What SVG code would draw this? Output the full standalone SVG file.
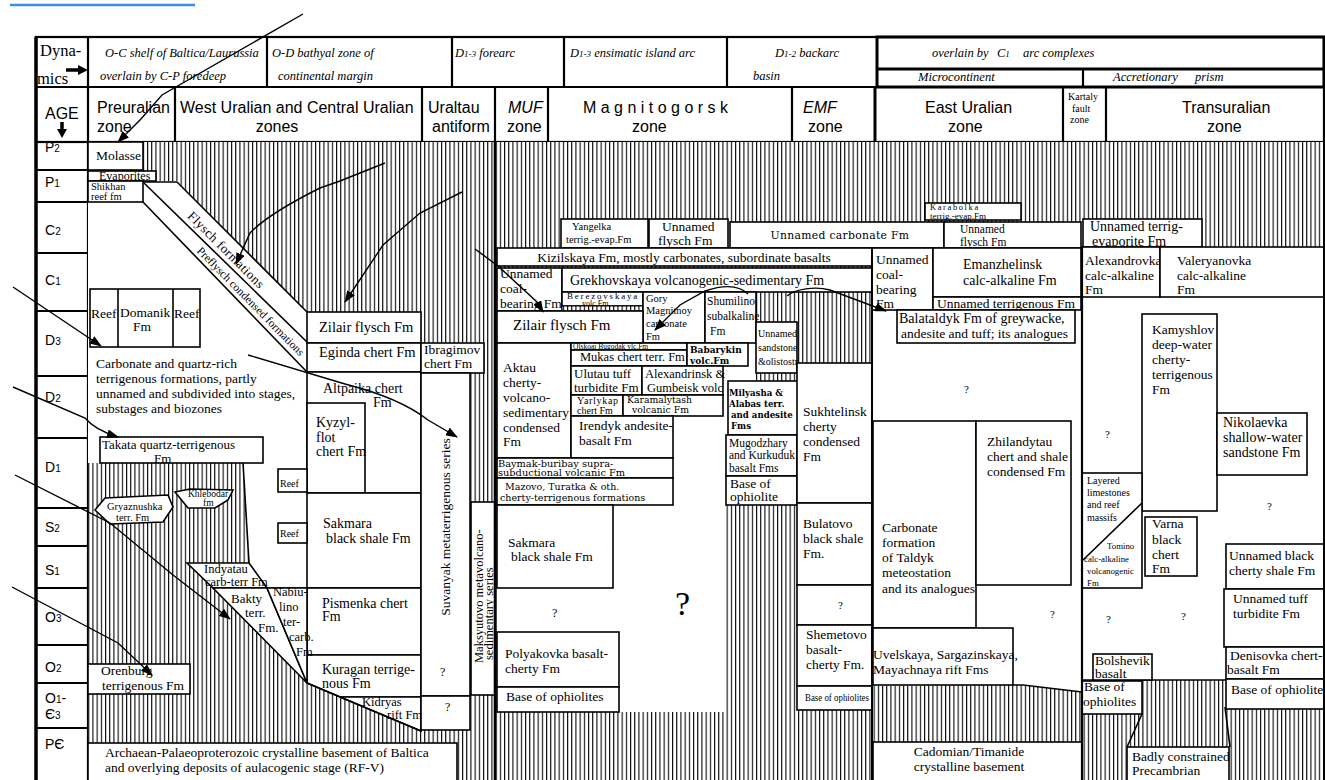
<svg xmlns="http://www.w3.org/2000/svg" width="1325" height="780" viewBox="0 0 1325 780">
<defs>
<pattern id="hatch" patternUnits="userSpaceOnUse" width="4.2" height="20"><rect width="4.2" height="20" fill="#fff"/><rect x="0" y="0" width="1.1" height="20" fill="#000"/></pattern>
<marker id="ah" markerUnits="userSpaceOnUse" markerWidth="12" markerHeight="9" viewBox="0 0 12 9" refX="11" refY="4.5" orient="auto"><path d="M0,0 L12,4.5 L0,9 Z" fill="#000"/></marker>
</defs>
<style>
.w{fill:#fff;stroke:none}
.b{fill:#fff;stroke:#000;stroke-width:1.6}
.ln{fill:none;stroke:#000;stroke-width:1.6}
.th{fill:none;stroke:#000;stroke-width:2.2}
.tk{fill:none;stroke:#000;stroke-width:3}
.ar{fill:none;stroke:#000;stroke-width:1.4;marker-end:url(#ah)}
text{fill:#000}
.t{font-family:"Liberation Serif","Times New Roman",serif;font-size:13.5px}
.s{font-family:"Liberation Sans",Arial,sans-serif;font-size:16px}
.i{font-family:"Liberation Serif","Times New Roman",serif;font-style:italic;font-size:12.5px}
.d{font-family:"DejaVu Serif",serif;font-size:9.5px}
.q{font-family:"Liberation Serif","Times New Roman",serif;font-size:12px}
</style>
<rect width="1325" height="780" fill="#fff"/>
<line x1="10" y1="5" x2="195" y2="5" stroke="#3b8fe0" stroke-width="2.5"/>

<g id="header">
<rect x="36" y="37" width="1288" height="105" class="b" style="stroke-width:2.2"/>
<line x1="36" y1="87" x2="1324" y2="87" class="th"/>
<line x1="88" y1="37" x2="88" y2="142" class="th"/>
<line x1="267" y1="37" x2="267" y2="87" class="th"/>
<line x1="452" y1="37" x2="452" y2="87" class="th"/>
<line x1="564" y1="37" x2="564" y2="87" class="th"/>
<line x1="727" y1="37" x2="727" y2="87" class="th"/>
<rect x="877" y="37" width="447" height="50" class="tk"/>
<line x1="877" y1="69" x2="1324" y2="69" class="tk"/>
<line x1="1083" y1="69" x2="1083" y2="87" class="th"/>
<line x1="175" y1="87" x2="175" y2="142" class="th"/>
<line x1="422" y1="87" x2="422" y2="142" class="th"/>
<line x1="495" y1="87" x2="495" y2="142" class="th"/>
<line x1="548" y1="87" x2="548" y2="142" class="th"/>
<line x1="792" y1="87" x2="792" y2="142" class="th"/>
<line x1="875" y1="87" x2="875" y2="142" class="tk"/>
<line x1="1063" y1="87" x2="1063" y2="142" class="th"/>
<line x1="1106" y1="87" x2="1106" y2="142" class="th"/>
<line x1="36" y1="142" x2="1324" y2="142" class="th"/>
<text class="t" x="40" y="56" style="font-size:16.5px">Dyna-</text>
<text class="t" x="37" y="84" style="font-size:16.5px">mics</text>
<text class="i" x="105" y="57">O-C shelf of Baltica/Laurussia</text>
<text class="i" x="100" y="80">overlain by C-P foredeep</text>
<text class="i" x="272" y="57">O-D bathyal zone of</text>
<text class="i" x="278" y="80">continental margin</text>
<text class="i" x="455" y="57">D<tspan style="font-size:9px">1-3</tspan> forearc</text>
<text class="i" x="570" y="57">D<tspan style="font-size:9px">1-3</tspan> ensimatic island arc</text>
<text class="i" x="775" y="57">D<tspan style="font-size:9px">1-2</tspan> backarc</text>
<text class="i" x="753" y="80">basin</text>
<text class="i" x="932" y="57">overlain by</text>
<text class="i" x="997" y="57">C<tspan style="font-size:9px">1</tspan></text>
<text class="i" x="1023" y="57">arc complexes</text>
<text class="i" x="918" y="81">Microcontinent</text>
<text class="i" x="1113" y="81">Accretionary</text>
<text class="i" x="1195" y="81">prism</text>
<text class="s" x="45" y="119">AGE</text>
<text class="s" x="97" y="113">Preuralian</text>
<text class="s" x="97" y="132">zone</text>
<text class="s" x="180" y="113">West Uralian and Central Uralian</text>
<text class="s" x="277" y="132" text-anchor="middle">zones</text>
<text class="s" x="428" y="113">Uraltau</text>
<text class="s" x="432" y="132">antiform</text>
<text class="s" x="508" y="113" font-style="italic">MUF</text>
<text class="s" x="507" y="132">zone</text>
<text class="s" x="583" y="113">M a g n i t o g o r s k</text>
<text class="s" x="632" y="132">zone</text>
<text class="s" x="803" y="113" font-style="italic">EMF</text>
<text class="s" x="808" y="132">zone</text>
<text class="s" x="925" y="113">East Uralian</text>
<text class="s" x="948" y="132">zone</text>
<text class="t" x="1068" y="100" style="font-size:10px">Kartaly</text>
<text class="t" x="1072" y="112" style="font-size:10px">fault</text>
<text class="t" x="1070" y="123" style="font-size:10px">zone</text>
<text class="s" x="1182" y="113">Transuralian</text>
<text class="s" x="1207" y="132">zone</text>
</g>

<g id="age-column">
<line x1="88" y1="142" x2="88" y2="780" class="th"/>
<g class="th">
<line x1="36" y1="170" x2="88" y2="170"/><line x1="36" y1="202" x2="88" y2="202"/><line x1="36" y1="253" x2="88" y2="253"/><line x1="36" y1="311" x2="88" y2="311"/><line x1="36" y1="376" x2="88" y2="376"/><line x1="36" y1="438" x2="88" y2="438"/><line x1="36" y1="508" x2="88" y2="508"/><line x1="36" y1="546" x2="88" y2="546"/><line x1="36" y1="588" x2="88" y2="588"/><line x1="36" y1="645" x2="88" y2="645"/><line x1="36" y1="683" x2="88" y2="683"/><line x1="36" y1="728" x2="88" y2="728"/>
</g>
<line x1="36" y1="37" x2="36" y2="780" stroke="#000" stroke-width="3.5"/>
<g class="s" style="font-size:14px">
<text x="45" y="152">P<tspan style="font-size:10px">2</tspan></text>
<text x="45" y="187">P<tspan style="font-size:10px">1</tspan></text>
<text x="45" y="235">C<tspan style="font-size:10px">2</tspan></text>
<text x="45" y="285">C<tspan style="font-size:10px">1</tspan></text>
<text x="45" y="345">D<tspan style="font-size:10px">3</tspan></text>
<text x="45" y="402">D<tspan style="font-size:10px">2</tspan></text>
<text x="45" y="472">D<tspan style="font-size:10px">1</tspan></text>
<text x="45" y="532">S<tspan style="font-size:10px">2</tspan></text>
<text x="45" y="575">S<tspan style="font-size:10px">1</tspan></text>
<text x="45" y="622">O<tspan style="font-size:10px">3</tspan></text>
<text x="45" y="672">O<tspan style="font-size:10px">2</tspan></text>
<text x="45" y="703">O<tspan style="font-size:10px">1</tspan>-</text>
<text x="45" y="719">Є<tspan style="font-size:10px">3</tspan></text>
<text x="45" y="749">PЄ</text>
</g>
</g>

<rect x="88" y="142" width="1236" height="638" fill="url(#hatch)"/>
<g id="white-regions">
<polygon class="w" points="143,181 177,181 307,312 307,683 187,563 249,563 243,463 88,463 88,202 143,202"/>
<polygon class="w" points="497,343 756,343 756,381 797,381 797,505 724,505 724,712 497,712"/>
<polygon class="w" points="872,310 1082,310 1082,692 1023,685 872,686"/>
<polygon class="w" points="1082,297 1324,297 1324,709 1226,709 1226,680 1142,680 1142,714 1082,714"/>
</g>

<g id="west-uralian">
<g id="zilair-wu"><rect class="b" x="307" y="312" width="114" height="31"/><text class="t" x="319" y="332" style="font-size:14.5px">Zilair flysch Fm</text></g>
<g id="eginda"><rect class="b" x="307" y="343" width="114" height="29"/><text class="t" x="319" y="357" style="font-size:14.5px">Eginda chert Fm</text></g>
<g id="altpaika"><rect class="b" x="307" y="372" width="114" height="121"/><text class="t" x="323" y="393" style="font-size:14px">Altpaika  chert</text><text class="t" x="373" y="407" style="font-size:14px">Fm</text></g>
<g id="kyzyl"><rect class="b" x="307" y="403" width="58" height="90"/><text class="t" x="316" y="427" style="font-size:14px">Kyzyl-</text><text class="t" x="316" y="442" style="font-size:14px">flot</text><text class="t" x="316" y="456" style="font-size:14px">chert Fm</text></g>
<g id="sakmara-wu"><rect class="b" x="307" y="493" width="114" height="95"/><text class="t" x="323" y="528" style="font-size:14px">Sakmara</text><text class="t" x="326" y="543" style="font-size:14px">black shale  Fm</text></g>
<g id="pismenka"><rect class="b" x="307" y="588" width="114" height="67"/><text class="t" x="322" y="608" style="font-size:14px">Pismenka chert</text><text class="t" x="322" y="621" style="font-size:14px">Fm</text></g>
<g id="kuragan"><polygon class="b" points="307,655 421,655 421,697 340,697 307,683"/><text class="t" x="322" y="674" style="font-size:14px">Kuragan terrige-</text><text class="t" x="322" y="688" style="font-size:14px">nous  Fm</text></g>
<g id="kidryas"><polygon class="b" points="340,697 421,697 421,731"/><line class="ln" x1="307" y1="683" x2="421" y2="731"/><text class="t" x="362" y="706" style="font-size:12.5px">Kidryas</text><text class="t" x="387" y="719" style="font-size:12.5px">rift Fm</text></g>
</g>

<g id="preuralian">
<g id="molasse"><rect class="b" x="88" y="142" width="55" height="28"/><text class="t" x="96" y="160">Molasse</text></g>
<g id="evaporites"><rect class="b" x="88" y="171" width="68" height="10"/><text class="t" x="99" y="179.5" style="font-size:12px">Evaporites</text></g>
<g id="shikhan"><rect class="b" x="88" y="181" width="55" height="21"/><text class="t" x="91" y="190" style="font-size:10.5px">Shikhan</text><text class="t" x="91" y="200" style="font-size:10.5px">reef fm</text></g>
<g id="flysch-formations"><line class="ln" x1="143" y1="182" x2="177" y2="182"/><line class="ln" x1="177" y1="182" x2="307" y2="312"/><line class="ln" x1="144" y1="183" x2="307" y2="342"/><text class="t" x="223" y="253" text-anchor="middle" transform="rotate(45 223 253)" style="font-size:13px;letter-spacing:0.5px">Flysch formations</text></g>
<g id="preflysch"><line class="ln" x1="143" y1="202" x2="307" y2="372"/><text class="t" x="248" y="304" text-anchor="middle" transform="rotate(45.5 248 304)" style="font-size:11.5px">Preflysch condensed formations</text></g>
<g id="reef-domanik"><rect class="b" x="90" y="289" width="110" height="58"/><line class="ln" x1="118" y1="289" x2="118" y2="347"/><line class="ln" x1="173" y1="289" x2="173" y2="347"/><text class="t" x="91" y="318">Reef</text><text class="t" x="120" y="317">Domanik</text><text class="t" x="133" y="331">Fm</text><text class="t" x="174" y="318">Reef</text></g>
<g id="carbonate-quartz"><text class="t" x="96" y="368">Carbonate and quartz-rich</text><text class="t" x="96" y="383">terrigenous formations, partly</text><text class="t" x="96" y="398">unnamed and subdivided into stages,</text><text class="t" x="96" y="413">substages and biozones</text></g>
<g id="takata"><rect class="b" x="100" y="437" width="163" height="26"/><text class="t" x="102" y="449" style="font-size:13px">Takata quartz-terrigenous</text><text class="t" x="154" y="462.5" style="font-size:13px">Fm</text></g>
<line class="ln" x1="243" y1="463" x2="249" y2="563"/>
<g id="gryaznushka"><polygon class="b" points="95,510 105,498 168,495 173,507 163,522 110,524"/><text class="t" x="107" y="510" style="font-size:10.5px">Gryaznushka</text><text class="t" x="116" y="521" style="font-size:10.5px">terr. Fm</text></g>
<g id="khlebodar"><polygon class="b" points="175,492 190,489 233,490 228,500 215,508 188,508"/><text class="t" x="188" y="497" style="font-size:9.5px">Khlebodar</text><text class="t" x="203" y="506" style="font-size:9.5px">fm</text></g>
<g id="reef-1"><rect class="b" x="278" y="469" width="29" height="23"/><text class="t" x="280" y="487" style="font-size:10px">Reef</text></g>
<g id="reef-2"><rect class="b" x="278" y="523" width="29" height="20"/><text class="t" x="280" y="537" style="font-size:10px">Reef</text></g>
<g id="indyatau"><polygon class="b" points="187,563 249,563 267,588 213,588"/><line class="ln" x1="213" y1="588" x2="307" y2="588"/><text class="t" x="204" y="573" style="font-size:12.5px">Indyatau</text><text class="t" x="205" y="586" style="font-size:12.5px">carb-terr Fm</text></g>
<g id="bakty"><polygon class="b" points="213,588 267,588 307,683"/><text class="t" x="231" y="603" style="font-size:13px">Bakty</text><text class="t" x="245" y="617" style="font-size:13px">terr.</text><text class="t" x="258" y="632" style="font-size:13px">Fm.</text></g>
<g id="nabiulino"><polygon class="b" points="267,588 307,588 307,683"/><text class="t" x="273" y="596" style="font-size:12.5px">Nabiu-</text><text class="t" x="279" y="611" style="font-size:12.5px">lino</text><text class="t" x="283" y="626" style="font-size:12.5px">ter-</text><text class="t" x="289" y="641" style="font-size:12.5px">carb.</text><text class="t" x="296" y="656" style="font-size:12.5px">Fm</text></g>
<g id="orenburg"><rect class="b" x="88" y="664" width="102" height="30"/><text class="t" x="101" y="675">Orenburg</text><text class="t" x="102" y="690">terrigenous Fm</text></g>
<g id="archaean"><rect class="b" x="88" y="743" width="369" height="40"/><text class="t" x="105" y="757">Archaean-Palaeoproterozoic crystalline basement of Baltica</text><text class="t" x="105" y="772">and overlying deposits of  aulacogenic stage (RF-V)</text></g>
</g>

<g id="uraltau">
<g id="ibragimov"><rect class="b" x="421" y="343" width="63" height="30"/><text class="t" x="424" y="354">Ibragimov</text><text class="t" x="424" y="368">chert  Fm</text></g>
<g id="suvanyak"><rect class="b" x="421" y="373" width="49" height="323"/><text class="t" x="450" y="527" text-anchor="middle" transform="rotate(-90 450 527)">Suvanyak metaterrigenous  series</text><text class="q" x="440" y="676">?</text></g>
<g id="suvanyak-unknown"><rect class="b" x="421" y="696" width="49" height="34"/><text class="q" x="445" y="711">?</text></g>
<g id="maksyutovo"><rect class="b" x="471" y="502" width="24" height="193"/><text class="t" x="483" y="663" transform="rotate(-90 483 663)" style="font-size:12.5px">Maksyutovo metavolcano-</text><text class="t" x="493" y="660" transform="rotate(-90 493 660)" style="font-size:12.5px">sedimentary series</text></g>
</g>

<g id="magnitogorsk">
<g id="yangelka"><rect class="b" x="561" y="219" width="87" height="29"/><text class="t" x="572" y="230" style="font-size:10.5px">Yangelka</text><text class="t" x="566" y="243" style="font-size:10.5px">terrig.-evap.Fm</text></g>
<g id="unnamed-flysch-m"><rect class="b" x="649" y="219" width="79" height="29"/><text class="t" x="662" y="231">Unnamed</text><text class="t" x="658" y="245">flysch Fm</text></g>
<g id="unnamed-carbonate"><rect class="b" x="730" y="222" width="214" height="26"/><text class="d" x="840" y="239" text-anchor="middle" style="font-size:10.8px;letter-spacing:0.3px">Unnamed carbonate Fm</text></g>
<g id="kizilskaya"><rect class="b" x="497" y="248" width="375" height="18"/><text class="t" x="684" y="262" text-anchor="middle">Kizilskaya Fm, mostly carbonates, subordinate basalts</text></g>
<g id="coal-m"><rect class="b" x="497" y="268" width="65" height="43"/><text class="t" x="500" y="278">Unnamed</text><text class="t" x="500" y="293">coal-</text><text class="t" x="500" y="308">bearing Fm</text></g>
<g id="grekhovskaya"><rect class="b" x="562" y="268" width="310" height="24"/><text class="t" x="570" y="285" style="font-size:14px">Grekhovskaya volcanogenic-sedimentary Fm</text></g>
<g id="berezovskaya"><rect class="b" x="562" y="292" width="81" height="14"/><rect x="562" y="306" width="81" height="5" fill="url(#hatch)" stroke="#000" stroke-width="1"/><text class="t" x="567" y="299" style="font-size:9px;letter-spacing:1.8px">Berezovskaya</text><text class="t" x="582" y="306" style="font-size:8px">volc.Fm</text></g>
<g id="gory-magnitnoy"><rect class="b" x="643" y="292" width="62" height="51"/><text class="t" x="646" y="302" style="font-size:10.5px">Gory</text><text class="t" x="646" y="314" style="font-size:10.5px">Magnitnoy</text><text class="t" x="646" y="327" style="font-size:10.5px">carbonate</text><text class="t" x="646" y="340" style="font-size:10.5px">Fm</text></g>
<g id="shumilino"><rect class="b" x="705" y="292" width="51" height="51"/><text class="t" x="707" y="305" style="font-size:11.5px">Shumilino</text><text class="t" x="707" y="320" style="font-size:11.5px">subalkaline</text><text class="t" x="710" y="335" style="font-size:11.5px">Fm</text></g>
<g id="zilair-m"><rect class="b" x="497" y="311" width="146" height="32"/><text class="t" x="513" y="330" style="font-size:15px">Zilair flysch Fm</text></g>
<g id="unnamed-sandstone"><rect class="b" x="756" y="322" width="41" height="51"/><text class="t" x="758" y="337" style="font-size:10px">Unnamed</text><text class="t" x="758" y="351" style="font-size:10px">sandstone</text><text class="t" x="758" y="365" style="font-size:10px">&amp;olistostr</text></g>
<g id="aktau"><rect class="b" x="497" y="343" width="74" height="115"/><text class="t" x="503" y="372">Aktau</text><text class="t" x="503" y="387">cherty-</text><text class="t" x="503" y="402">volcano-</text><text class="t" x="503" y="417">sedimentary</text><text class="t" x="503" y="432">condensed</text><text class="t" x="503" y="446">Fm</text></g>
<g id="olskoai-bugodak"><rect class="b" x="571" y="343" width="116" height="7"/><text class="t" x="573" y="349" style="font-size:7.5px">Olskoai Bugodak vlc.Fm</text></g>
<g id="mukas"><rect class="b" x="571" y="350" width="116" height="16"/><text class="t" x="580" y="361" style="font-size:12.5px">Mukas chert terr. Fm</text></g>
<g id="babarykin"><rect class="b" x="687" y="343" width="61" height="23"/><text class="d" x="690" y="353" style="font-size:9px;font-weight:bold">Babarykin</text><text class="d" x="690" y="364" style="font-size:9px;font-weight:bold">volc.Fm</text></g>
<g id="ulutau"><rect class="b" x="571" y="366" width="71" height="29"/><text class="t" x="574" y="378" style="font-size:13px">Ulutau tuff</text><text class="t" x="574" y="392" style="font-size:13px">turbidite Fm</text></g>
<g id="alexandrinsk"><rect class="b" x="642" y="366" width="81" height="29"/><text class="t" x="645" y="378" style="font-size:12.5px">Alexandrinsk &amp;</text><text class="t" x="647" y="392" style="font-size:12.5px">Gumbeisk volc</text></g>
<g id="yarlykap"><rect class="b" x="571" y="395" width="52" height="21"/><text class="t" x="577" y="404" style="font-size:10px;letter-spacing:0.7px">Yarlykap</text><text class="t" x="577" y="414" style="font-size:10px">chert Fm</text></g>
<g id="karamalytash"><rect class="b" x="623" y="395" width="100" height="21"/><text class="d" x="627" y="403" style="font-size:9.3px">Karamalytash</text><text class="d" x="632" y="413" style="font-size:9.3px">volcanic Fm</text></g>
<g id="irendyk"><rect class="b" x="571" y="416" width="102" height="42"/><text class="t" x="579" y="430">Irendyk andesite-</text><text class="t" x="579" y="445">basalt Fm</text></g>
<g id="baymak"><rect class="b" x="497" y="458" width="176" height="20"/><text class="d" x="498" y="467" style="font-size:9.8px">Baymak-buribay  supra-</text><text class="d" x="498" y="476" style="font-size:9.8px">subductional volcanic Fm</text></g>
<g id="mazovo"><rect class="b" x="497" y="478" width="176" height="27"/><text class="d" x="505" y="490" style="font-size:9.5px">Mazovo,  Turatka &amp; oth.</text><text class="d" x="500" y="501" style="font-size:9.5px">cherty-terrigenous formations</text></g>
<g id="sakmara-m"><rect class="b" x="497" y="505" width="116" height="83"/><text class="t" x="508" y="547">Sakmara</text><text class="t" x="511" y="561"> black shale Fm</text></g>
<g id="unknown-m"><text class="q" x="552" y="617">?</text><text class="t" x="675" y="615" style="font-size:34px">?</text></g>
<g id="polyakovka"><rect class="b" x="497" y="632" width="122" height="55"/><text class="t" x="505" y="658">Polyakovka basalt-</text><text class="t" x="505" y="673">cherty Fm</text></g>
<g id="base-ophiolites-m"><rect class="b" x="497" y="687" width="122" height="25"/><text class="t" x="506" y="701">Base of ophiolites</text></g>
<g id="milyasha"><rect class="b" x="728" y="381" width="70" height="54"/><text class="d" x="729" y="396" style="font-size:8.6px;font-weight:bold">Milyasha &amp;</text><text class="d" x="729" y="407" style="font-size:8.6px;font-weight:bold">Alabas terr.</text><text class="d" x="731" y="418" style="font-size:8.6px;font-weight:bold">and andesite</text><text class="d" x="731" y="429" style="font-size:8.6px;font-weight:bold">Fms</text></g>
<g id="mugodzhary"><rect class="b" x="726" y="435" width="71" height="41"/><text class="t" x="729" y="447" style="font-size:11.5px">Mugodzhary</text><text class="t" x="729" y="459" style="font-size:11.5px">and Kurkuduk</text><text class="t" x="729" y="472" style="font-size:11.5px">basalt Fms</text></g>
<g id="base-ophiolite-m2"><rect class="b" x="726" y="476" width="71" height="29"/><text class="t" x="730" y="488">Base of</text><text class="t" x="730" y="501">ophiolite</text></g>
</g>

<g id="emf">
<g id="sukhtelinsk"><rect class="b" x="797" y="363" width="75" height="140"/><text class="t" x="803" y="416">Sukhtelinsk</text><text class="t" x="803" y="431">cherty</text><text class="t" x="803" y="446">condensed</text><text class="t" x="803" y="461">Fm</text></g>
<g id="bulatovo"><rect class="b" x="797" y="503" width="75" height="82"/><text class="t" x="803" y="528">Bulatovo</text><text class="t" x="803" y="543"> black shale</text><text class="t" x="803" y="558">Fm.</text></g>
<g id="unknown-emf"><rect class="b" x="797" y="585" width="75" height="40"/><text class="q" x="838" y="609" style="font-size:11px">?</text></g>
<g id="shemetovo"><rect class="b" x="797" y="625" width="75" height="61"/><text class="t" x="806" y="639">Shemetovo</text><text class="t" x="806" y="654">basalt-</text><text class="t" x="806" y="669">cherty Fm.</text></g>
<g id="base-ophiolites-emf"><rect class="b" x="797" y="686" width="75" height="24"/><text class="t" x="805" y="701" textLength="64" lengthAdjust="spacingAndGlyphs" style="font-size:10px">Base of ophiolites</text></g>
</g>

<g id="east-uralian">
<g id="karabolka"><rect class="b" x="925" y="203" width="96" height="17"/><text class="t" x="930" y="210" style="font-size:8.5px;letter-spacing:1.6px">Karabolka</text><text class="t" x="930" y="219" style="font-size:9px">terrig.-evap.Fm</text></g>
<g id="unnamed-flysch-eu"><rect class="b" x="944" y="222" width="137" height="26"/><text class="t" x="960" y="233" style="font-size:11.5px">Unnamed</text><text class="t" x="960" y="246" style="font-size:11.5px">flysch Fm</text></g>
<g id="coal-eu"><rect class="b" x="872" y="248" width="61" height="62"/><text class="t" x="876" y="264">Unnamed</text><text class="t" x="876" y="279">coal-</text><text class="t" x="876" y="294">bearing</text><text class="t" x="876" y="308">Fm</text></g>
<g id="emanzhelinsk"><rect class="b" x="933" y="248" width="148" height="49"/><text class="t" x="963" y="269" style="font-size:14px">Emanzhelinsk</text><text class="t" x="963" y="285" style="font-size:14px">calc-alkaline Fm</text></g>
<g id="unnamed-terrigenous"><rect class="b" x="933" y="297" width="148" height="13"/><text class="t" x="937" y="308">Unnamed terrigenous Fm</text></g>
<g id="balataldyk"><rect class="b" x="897" y="310" width="178" height="33"/><text class="t" x="899" y="323" style="font-size:14px">Balataldyk Fm of greywacke,</text><text class="t" x="901" y="338" style="font-size:13.5px">andesite and tuff; its analogues</text></g>
<text class="q" x="964" y="393" style="font-size:11px">?</text>
<g id="carbonate-taldyk"><rect class="b" x="873" y="421" width="103" height="207"/><text class="t" x="882" y="532">Carbonate</text><text class="t" x="882" y="547">formation</text><text class="t" x="882" y="562">of Taldyk</text><text class="t" x="882" y="577">meteostation</text><text class="t" x="882" y="593">and its analogues</text></g>
<g id="zhilandytau"><rect class="b" x="976" y="421" width="95" height="164"/><text class="t" x="987" y="446">Zhilandytau</text><text class="t" x="987" y="461">chert and shale</text><text class="t" x="987" y="476">condensed Fm</text></g>
<text class="q" x="1050" y="618" style="font-size:11px">?</text>
<g id="uvelskaya"><rect class="b" x="873" y="628" width="140" height="57"/><text class="t" x="873" y="659">Uvelskaya, Sargazinskaya,</text><text class="t" x="873" y="674">Mayachnaya rift Fms</text></g>
<polyline class="ln" points="1013,685 1023,685 1082,692"/>
<g id="cadomian"><rect class="b" x="873" y="742" width="209" height="40"/><text class="t" x="969" y="756" text-anchor="middle">Cadomian/Timanide</text><text class="t" x="969" y="771" text-anchor="middle">crystalline basement</text></g>
</g>

<g id="transuralian">
<g id="unnamed-terrig-evaporite"><rect class="b" x="1083" y="219" width="119" height="28"/><text class="t" x="1090" y="231" style="font-size:14px">Unnamed terrig-</text><text class="t" x="1092" y="246" style="font-size:14px">evaporite Fm</text></g>
<g id="alexandrovka"><rect class="b" x="1082" y="247" width="78" height="50"/><text class="t" x="1085" y="265">Alexandrovka</text><text class="t" x="1085" y="280">calc-alkaline</text><text class="t" x="1085" y="294">Fm</text></g>
<g id="valeryanovka"><rect class="b" x="1160" y="247" width="166" height="50"/><text class="t" x="1177" y="265">Valeryanovka</text><text class="t" x="1177" y="280">calc-alkaline</text><text class="t" x="1177" y="294">Fm</text></g>
<g id="kamyshlov"><rect class="b" x="1142" y="314" width="75" height="197"/><text class="t" x="1152" y="334">Kamyshlov</text><text class="t" x="1152" y="349">deep-water</text><text class="t" x="1152" y="364">cherty-</text><text class="t" x="1152" y="379">terrigenous</text><text class="t" x="1152" y="394">Fm</text></g>
<g id="nikolaevka"><rect class="b" x="1217" y="413" width="90" height="62"/><text class="t" x="1223" y="427" style="font-size:14px">Nikolaevka</text><text class="t" x="1223" y="442" style="font-size:14px">shallow-water</text><text class="t" x="1223" y="457" style="font-size:14px">sandstone Fm</text></g>
<g id="unknown-tu"><text class="q" x="1105" y="438" style="font-size:11px">?</text><text class="q" x="1267" y="510" style="font-size:11px">?</text><text class="q" x="1106" y="623" style="font-size:11px">?</text><text class="q" x="1181" y="620" style="font-size:11px">?</text></g>
<g id="layered-tomino"><rect class="b" x="1082" y="473" width="60" height="115"/><line class="ln" x1="1142" y1="503" x2="1083" y2="560"/><text class="t" x="1087" y="484" style="font-size:10px">Layered</text><text class="t" x="1087" y="496" style="font-size:10px">limestones</text><text class="t" x="1087" y="508" style="font-size:10px">and reef</text><text class="t" x="1087" y="521" style="font-size:10px">massifs</text><text class="t" x="1107" y="549" style="font-size:8.8px">Tomino</text><text class="t" x="1084" y="562" style="font-size:8.8px">calc-alkaline</text><text class="t" x="1087" y="574" style="font-size:8.8px">volcanogenic</text><text class="t" x="1087" y="586" style="font-size:8.8px">Fm</text></g>
<g id="varna"><rect class="b" x="1145" y="517" width="52" height="59"/><text class="t" x="1152" y="528">Varna</text><text class="t" x="1152" y="544">black</text><text class="t" x="1152" y="559">chert</text><text class="t" x="1152" y="573">Fm</text></g>
<g id="unnamed-black"><rect class="b" x="1226" y="544" width="100" height="45"/><text class="t" x="1229" y="560">Unnamed black</text><text class="t" x="1229" y="575">cherty shale Fm</text></g>
<g id="unnamed-tuff"><rect class="b" x="1224" y="589" width="102" height="58"/><text class="t" x="1233" y="603">Unnamed tuff</text><text class="t" x="1233" y="618">turbidite Fm</text></g>
<g id="denisovka"><rect class="b" x="1226" y="647" width="100" height="32"/><text class="t" x="1230" y="660">Denisovka chert-</text><text class="t" x="1227" y="674">basalt Fm</text></g>
<g id="base-ophiolites-tu"><rect class="b" x="1226" y="679" width="100" height="30"/><text class="t" x="1231" y="694">Base of ophiolites</text></g>
<line class="ln" x1="1082" y1="680" x2="1226" y2="680"/>
<g id="bolshevik"><rect class="b" x="1093" y="654" width="59" height="26"/><text class="t" x="1095" y="665">Bolshevik</text><text class="t" x="1095" y="678">basalt</text></g>
<g id="base-ophiolites-k"><rect class="b" x="1082" y="681" width="60" height="33"/><text class="t" x="1084" y="691">Base of</text><text class="t" x="1083" y="706">ophiolites</text></g>
<line class="ln" x1="1142" y1="714" x2="1127" y2="747"/>
<line class="ln" x1="1225" y1="707" x2="1230" y2="747"/>
<g id="badly-constrained"><rect class="b" x="1127" y="747" width="102" height="40"/><text class="t" x="1132" y="761">Badly constrained</text><text class="t" x="1132" y="775">Precambrian</text></g>
</g>

<g id="zone-lines">
<line x1="495" y1="142" x2="495" y2="780" stroke="#000" stroke-width="2.6"/>
<line x1="872" y1="248" x2="872" y2="780" stroke="#000" stroke-width="2"/>
<line x1="1082" y1="247" x2="1082" y2="780" stroke="#000" stroke-width="2.2"/>
<line x1="1324" y1="142" x2="1324" y2="780" stroke="#000" stroke-width="2"/>
</g>

<g id="connectors">
<line x1="66" y1="70" x2="79" y2="70" stroke="#000" stroke-width="3.5"/><polygon points="78,65 88,70 78,75" fill="#000"/>
<line x1="62" y1="122" x2="62" y2="130" stroke="#000" stroke-width="3.5"/><polygon points="57,129 62,138 67,129" fill="#000"/>
<path class="ar" d="M303,14 L162,95 L140,120 L118,142"/>
<path class="ar" d="M385,163 L340,181 L320,188 Q268,214 250,233 L236,264"/>
<path class="ar" d="M462,192 L420,213 L383,245 L345,302"/>
<path class="ar" d="M475,249 L498,266 L537,302 L543,312"/>
<path class="ar" d="M748,294 Q735,281 705,291 L680,305 L655,330"/>
<path class="ar" d="M787,296 C795,289 815,286 830,290 L886,311"/>
<path class="ar" d="M248,355 L345,384 Q400,398 428,420 L457,437"/>
<path class="ar" d="M13,287 L101,346"/>
<path class="ar" d="M13,387 L85,418 Q95,430 118,437"/>
<path class="ar" d="M15,475 L110,523 L173,575 L230,619"/>
<path class="ar" d="M12,587 L118,643 L152,675"/>
</g>
</svg>
